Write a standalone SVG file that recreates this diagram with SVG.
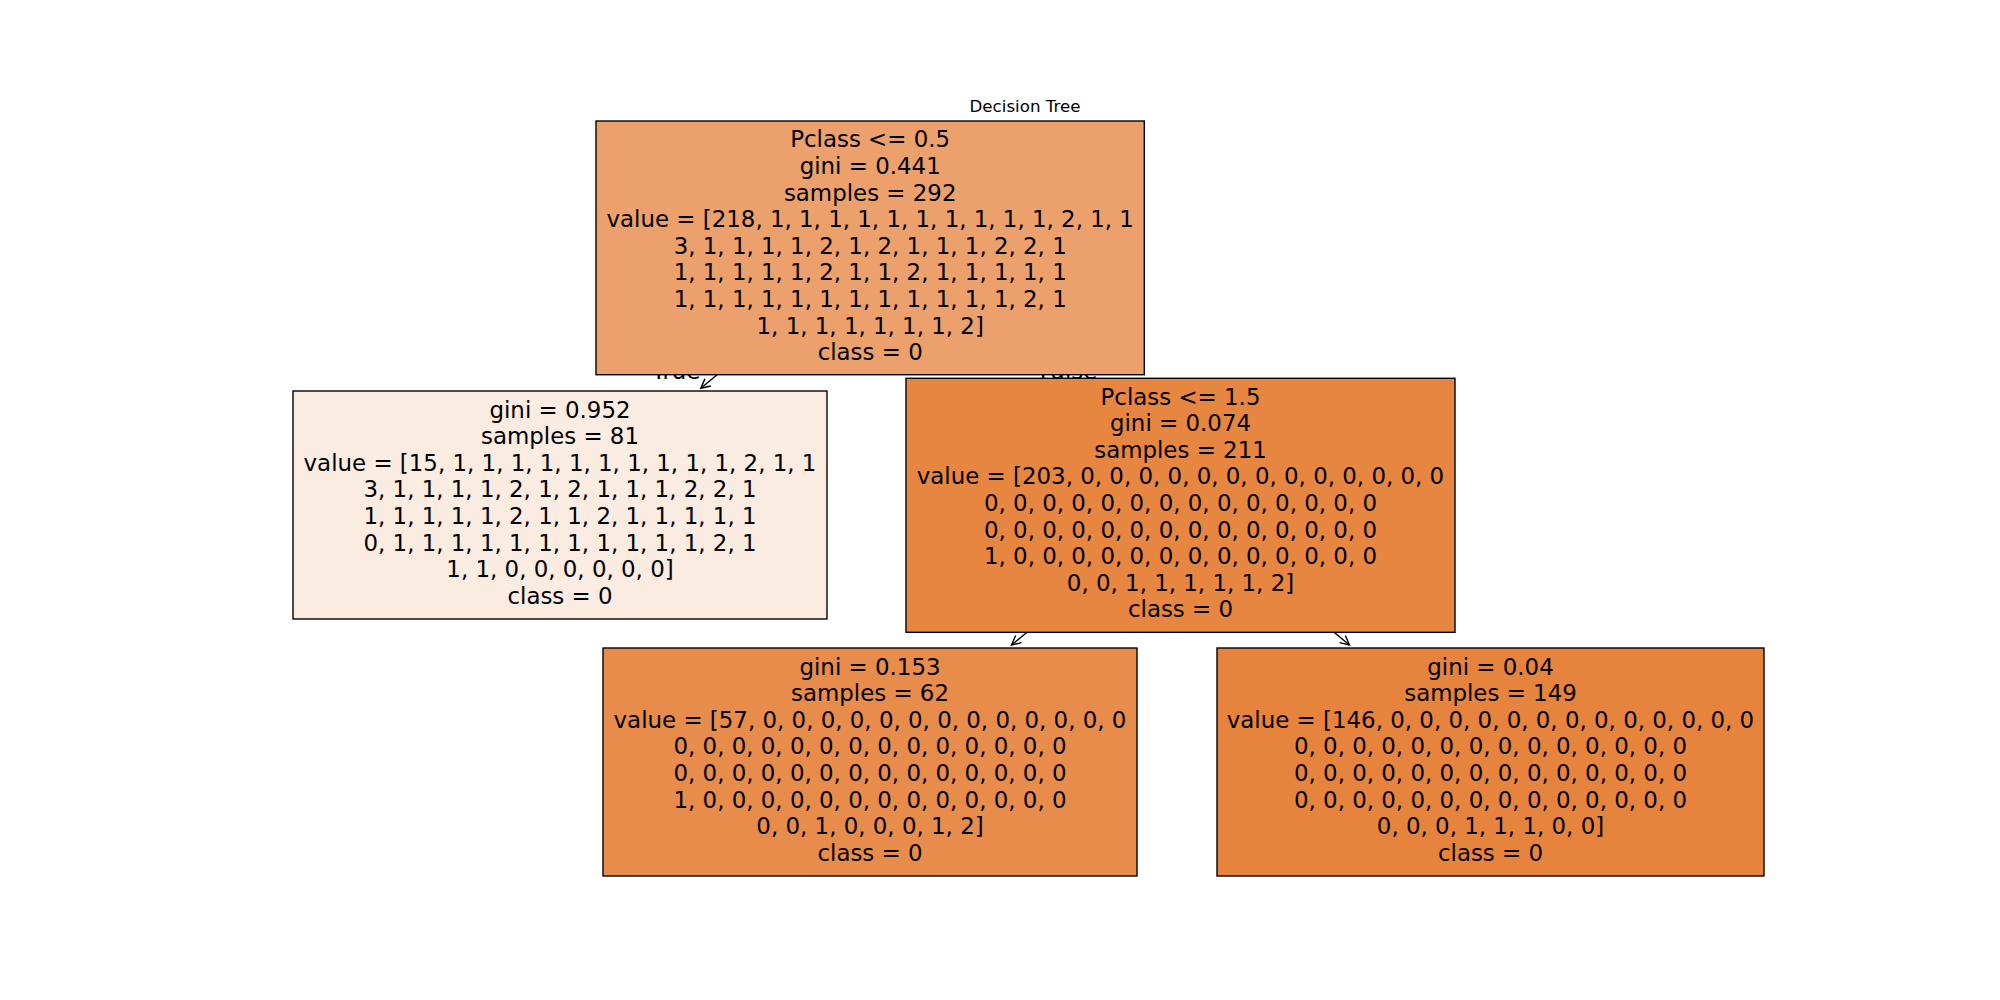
<svg xmlns="http://www.w3.org/2000/svg" width="2000" height="1000" viewBox="0 0 2000 1000">
<defs>
<style>
text{font-family:"DejaVu Sans","Liberation Sans",sans-serif;fill:#000}
.t{font-size:22.9px;text-anchor:middle}
.title{font-size:16.67px;text-anchor:middle}
.lbl{font-size:22.9px}
.box{stroke:#000;stroke-width:1.39}
.edge{stroke:#000;stroke-width:1.39;fill:none}
.arr{marker-end:url(#ah)}
</style>
<marker id="ah" markerUnits="userSpaceOnUse" markerWidth="24" markerHeight="24" viewBox="-12 -12 24 24" refX="0" refY="0" orient="auto" overflow="visible">
<path d="M-9.2,-4.6 L0,0 L-9.2,4.6" fill="none" stroke="#000" stroke-width="1.39"/>
</marker>
</defs>
<rect width="2000" height="1000" fill="#fff"/>
<text class="title" x="1025" y="111.7">Decision Tree</text>
<g id="edge-labels">
<text class="lbl" x="700.4" y="378.5" text-anchor="end">True</text>
<text class="lbl" x="1039.8" y="378.5">False</text>
</g>
<g id="connectors">
<path class="edge arr" d="M870,248 L700.8,388.3"/>
<path class="edge" d="M870,248 L1018,370"/>
<path class="edge arr" d="M1180.5,505.3 L1011.5,645"/>
<path class="edge arr" d="M1180.5,505.3 L1349.5,645"/>
</g>
<g id="node-3">
<rect class="box" x="603" y="648" width="534" height="228" fill="#e78c4a"/>
<text class="t" y="674.6"><tspan x="870">gini = 0.153</tspan><tspan x="870" dy="26.6">samples = 62</tspan><tspan x="870" dy="26.6">value = [57, 0, 0, 0, 0, 0, 0, 0, 0, 0, 0, 0, 0, 0</tspan><tspan x="870" dy="26.6">0, 0, 0, 0, 0, 0, 0, 0, 0, 0, 0, 0, 0, 0</tspan><tspan x="870" dy="26.6">0, 0, 0, 0, 0, 0, 0, 0, 0, 0, 0, 0, 0, 0</tspan><tspan x="870" dy="26.6">1, 0, 0, 0, 0, 0, 0, 0, 0, 0, 0, 0, 0, 0</tspan><tspan x="870" dy="26.6">0, 0, 1, 0, 0, 0, 1, 2]</tspan><tspan x="870" dy="26.6">class = 0</tspan></text>
</g>
<g id="node-4">
<rect class="box" x="1217" y="648" width="547" height="228" fill="#e6843d"/>
<text class="t" y="674.6"><tspan x="1490.5">gini = 0.04</tspan><tspan x="1490.5" dy="26.6">samples = 149</tspan><tspan x="1490.5" dy="26.6">value = [146, 0, 0, 0, 0, 0, 0, 0, 0, 0, 0, 0, 0, 0</tspan><tspan x="1490.5" dy="26.6">0, 0, 0, 0, 0, 0, 0, 0, 0, 0, 0, 0, 0, 0</tspan><tspan x="1490.5" dy="26.6">0, 0, 0, 0, 0, 0, 0, 0, 0, 0, 0, 0, 0, 0</tspan><tspan x="1490.5" dy="26.6">0, 0, 0, 0, 0, 0, 0, 0, 0, 0, 0, 0, 0, 0</tspan><tspan x="1490.5" dy="26.6">0, 0, 0, 1, 1, 1, 0, 0]</tspan><tspan x="1490.5" dy="26.6">class = 0</tspan></text>
</g>
<g id="node-1">
<rect class="box" x="293" y="391" width="534" height="228" fill="#fbece1"/>
<text class="t" y="417.6"><tspan x="560">gini = 0.952</tspan><tspan x="560" dy="26.6">samples = 81</tspan><tspan x="560" dy="26.6">value = [15, 1, 1, 1, 1, 1, 1, 1, 1, 1, 1, 2, 1, 1</tspan><tspan x="560" dy="26.6">3, 1, 1, 1, 1, 2, 1, 2, 1, 1, 1, 2, 2, 1</tspan><tspan x="560" dy="26.6">1, 1, 1, 1, 1, 2, 1, 1, 2, 1, 1, 1, 1, 1</tspan><tspan x="560" dy="26.6">0, 1, 1, 1, 1, 1, 1, 1, 1, 1, 1, 1, 2, 1</tspan><tspan x="560" dy="26.6">1, 1, 0, 0, 0, 0, 0, 0]</tspan><tspan x="560" dy="26.6">class = 0</tspan></text>
</g>
<g id="node-2">
<rect class="box" x="906" y="378.3" width="549" height="254" fill="#e68641"/>
<text class="t" y="404.6"><tspan x="1180.5">Pclass &lt;= 1.5</tspan><tspan x="1180.5" dy="26.6">gini = 0.074</tspan><tspan x="1180.5" dy="26.6">samples = 211</tspan><tspan x="1180.5" dy="26.6">value = [203, 0, 0, 0, 0, 0, 0, 0, 0, 0, 0, 0, 0, 0</tspan><tspan x="1180.5" dy="26.6">0, 0, 0, 0, 0, 0, 0, 0, 0, 0, 0, 0, 0, 0</tspan><tspan x="1180.5" dy="26.6">0, 0, 0, 0, 0, 0, 0, 0, 0, 0, 0, 0, 0, 0</tspan><tspan x="1180.5" dy="26.6">1, 0, 0, 0, 0, 0, 0, 0, 0, 0, 0, 0, 0, 0</tspan><tspan x="1180.5" dy="26.6">0, 0, 1, 1, 1, 1, 1, 2]</tspan><tspan x="1180.5" dy="26.6">class = 0</tspan></text>
</g>
<g id="node-0">
<rect class="box" x="596" y="121" width="548.3" height="253.7" fill="#eca16c"/>
<text class="t" y="147.3"><tspan x="870.2">Pclass &lt;= 0.5</tspan><tspan x="870.2" dy="26.6">gini = 0.441</tspan><tspan x="870.2" dy="26.6">samples = 292</tspan><tspan x="870.2" dy="26.6">value = [218, 1, 1, 1, 1, 1, 1, 1, 1, 1, 1, 2, 1, 1</tspan><tspan x="870.2" dy="26.6">3, 1, 1, 1, 1, 2, 1, 2, 1, 1, 1, 2, 2, 1</tspan><tspan x="870.2" dy="26.6">1, 1, 1, 1, 1, 2, 1, 1, 2, 1, 1, 1, 1, 1</tspan><tspan x="870.2" dy="26.6">1, 1, 1, 1, 1, 1, 1, 1, 1, 1, 1, 1, 2, 1</tspan><tspan x="870.2" dy="26.6">1, 1, 1, 1, 1, 1, 1, 2]</tspan><tspan x="870.2" dy="26.6">class = 0</tspan></text>
</g>
</svg>
